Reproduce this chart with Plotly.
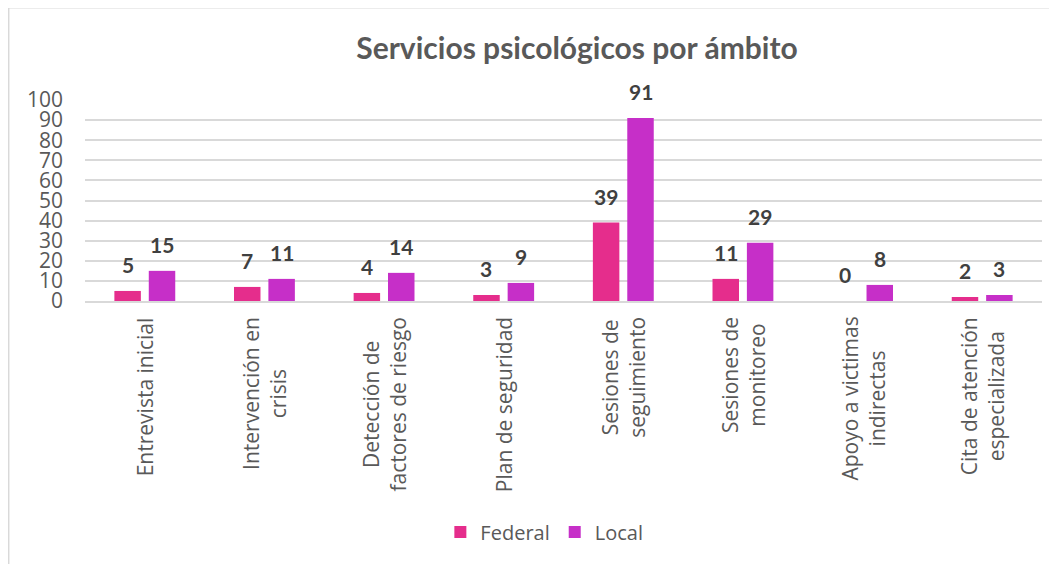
import plotly.graph_objects as go

categories = ["Entrevista inicial", "Intervención en crisis", "Detección de factores de riesgo",
              "Plan de seguridad", "Sesiones de seguimiento", "Sesiones de monitoreo",
              "Apoyo a victimas indirectas", "Cita de atención especializada"]
category_labels = ["Entrevista inicial", "Intervención en<br>crisis", "Detección de<br>factores de riesgo",
                   "Plan de seguridad", "Sesiones de<br>seguimiento", "Sesiones de<br>monitoreo",
                   "Apoyo a victimas<br>indirectas", "Cita de atención<br>especializada"]
federal = [5, 7, 4, 3, 39, 11, 0, 2]
local = [15, 11, 14, 9, 91, 29, 8, 3]
y_ticks = [0, 10, 20, 30, 40, 50, 60, 70, 80, 90, 100]

FED_COLOR = "#E52D8C"
LOC_COLOR = "#C62FC8"
TEXT_GRAY = "#595959"
GRID = "#D9D9D9"

fig = go.Figure()
fig.add_trace(go.Bar(name="Federal", x=categories, y=federal, marker_color=FED_COLOR,
                     marker_line_width=0))
fig.add_trace(go.Bar(name="Local", x=categories, y=local, marker_color=LOC_COLOR,
                     marker_line_width=0))

annotations = []
# data labels
for vals, shift in ((federal, -17.2), (local, 17.2)):
    for c, v in zip(categories, vals):
        annotations.append(dict(x=c, y=v, xref="x", yref="y", text=str(v), showarrow=False,
                                xshift=shift, yshift=12, yanchor="bottom", xanchor="center",
                                font=dict(family="Lato", size=21, color="#404040", weight="bold")))
# category labels
for c, lab in zip(categories, category_labels):
    annotations.append(dict(x=c, y=0, xref="x", yref="y", text=lab, showarrow=False,
                            textangle=-90, yanchor="top", xanchor="center", yshift=-14,
                            align="center",
                            font=dict(family="Open Sans", size=21, color=TEXT_GRAY)))

fig.update_layout(
    width=1049, height=556,
    margin=dict(l=77, r=15, t=92, b=263, autoexpand=False),
    paper_bgcolor="white", plot_bgcolor="white",
    barmode="group", bargap=0.425, bargroupgap=0.23,
    title=dict(text="<b>Servicios psicológicos por ámbito</b>", xref="container", x=0.5424,
               xanchor="center", yref="container", y=0.928, yanchor="middle",
               font=dict(family="Lato", size=30, color=TEXT_GRAY)),
    xaxis=dict(showticklabels=False, showgrid=False, showline=True, linecolor=GRID,
               linewidth=1.5, ticks=""),
    yaxis=dict(range=[0, 100], tickvals=y_ticks, showgrid=True, gridcolor=GRID, gridwidth=1.5,
               zeroline=False, ticks="", ticklabelstandoff=21,
               tickfont=dict(family="Open Sans", size=21, color=TEXT_GRAY)),
    legend=dict(orientation="h", x=0.48, xanchor="center", y=-1.149, yanchor="middle",
                font=dict(family="Open Sans", size=20, color=TEXT_GRAY), traceorder="normal"),
    annotations=annotations,
    shapes=[dict(type="rect", xref="paper", yref="paper", x0=-0.08, x1=1.03, y0=-1.5, y1=1.46,
                 line=dict(color=GRID, width=2), layer="below")],
)

fig.write_html("out.html")
